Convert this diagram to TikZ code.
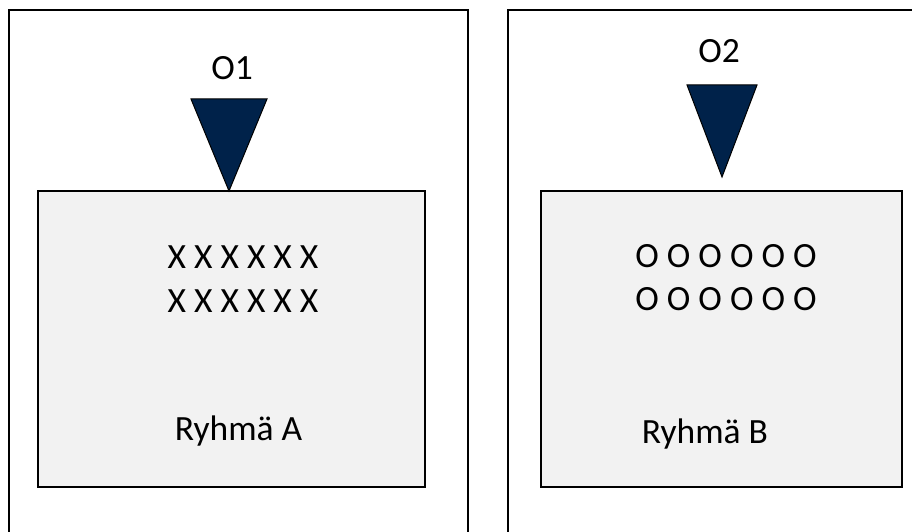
\documentclass[tikz,border=0pt]{standalone}
\usepackage{fontspec}
\setmainfont{Carlito}
\definecolor{navy}{HTML}{00224A}
\definecolor{panel}{HTML}{F2F2F2}
\tikzset{
  outerbox/.style={draw=black, line width=2.5pt},
  innerbox/.style={draw=black, fill=panel, line width=2pt},
  marker/.style={draw=black, fill=navy, line width=1pt, line join=miter},
  lbl/.style={font=\fontsize{35.5}{42}\selectfont, anchor=base, inner sep=0pt},
}
\begin{document}
\begin{tikzpicture}[x=1pt, y=-1pt]
\useasboundingbox (0,0) rectangle (912,532);
\begin{scope}
\clip (0,0) rectangle (912,532);
\draw[outerbox] (9,10) rectangle (468,545);
\draw[outerbox] (508,10) rectangle (930,545);
\end{scope}
% inner group boxes
\draw[innerbox] (38,191) rectangle (425,487);
\draw[innerbox] (541,191) rectangle (902,487);
% triangles
\draw[marker] (191,99) -- (267,99) -- (229,191) -- cycle;
\draw[marker] (687,85) -- (757,85) -- (722,177) -- cycle;
% labels
\node[lbl] (o1) at (232,80) {O1};
\node[lbl] (o2) at (719,63) {O2};
\node[lbl] (xa) at (243,268) {X X X X X X};
\node[lbl] (xb) at (243,312) {X X X X X X};
\node[lbl] (oa) at (726,267) {O O O O O O};
\node[lbl] (ob) at (726,310) {O O O O O O};
\node[lbl] (ga) at (238.5,440) {Ryhmä A};
\node[lbl] (gb) at (705,443) {Ryhmä B};
\end{tikzpicture}
\end{document}
